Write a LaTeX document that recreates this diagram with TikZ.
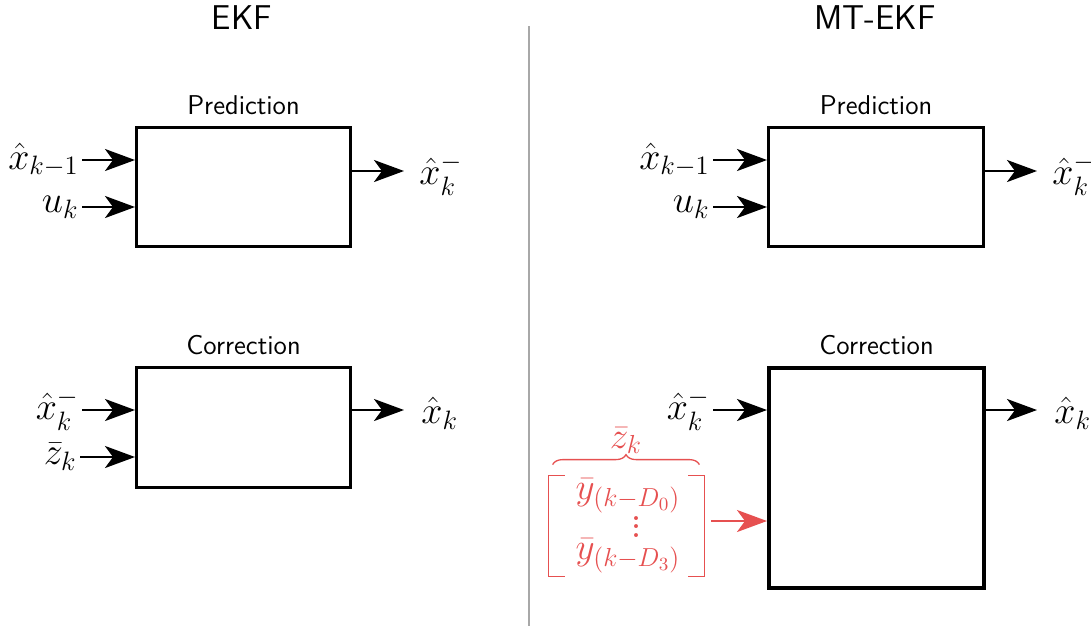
\RequirePackage{fix-cm}
\documentclass[tikz,border=0pt]{standalone}
\usepackage{amsmath}
\usetikzlibrary{arrows.meta,decorations.pathreplacing,calc}
\definecolor{obsred}{RGB}{230,80,80}
\definecolor{divgray}{RGB}{168,168,168}
\begin{document}
\begin{tikzpicture}[x=0.5pt,y=-0.5pt,
  blockbox/.style={draw=black,line width=1.5pt,minimum width=107pt,anchor=north west,inner sep=0pt},
  titletext/.style={font=\fontsize{17.2}{20}\selectfont\sffamily},
  headtext/.style={font=\fontsize{13.6}{16}\selectfont\sffamily,anchor=base},
  mathlbl/.style={font=\fontsize{19}{22}\selectfont,inner sep=1.5pt},
  sigarrow/.style={line width=1.25pt,-{Stealth[length=15pt,width=11pt,inset=4pt]}},
  redarrow/.style={draw=obsred,line width=1.25pt,-{Stealth[length=15pt,width=11pt,inset=4pt]}},
  redtext/.style={text=obsred,font=\fontsize{18.6}{22}\selectfont,inner sep=0pt}]
\useasboundingbox (0,0) rectangle (1091,629);

% divider between the two filters
\coordinate (divtop) at (529,26);
\coordinate (divbot) at (529,626);
\draw[divgray,line width=1pt] (divtop) -- (divbot);

% titles
\node[titletext] (t1) at (242,18) {EKF};
\node[titletext] (t2) at (875,18) {MT-EKF};

% ---------- EKF ----------
\node[blockbox,minimum height=59.5pt] (predA) at (135,126) {};
\node[blockbox,minimum height=60pt] (corrA) at (135,366) {};
\node[headtext] (hpA) at ($(predA.north)+(0,-12)$) {Prediction};
\node[headtext] (hcA) at ($(corrA.north)+(0,-12)$) {Correction};

\coordinate (ia1) at (82,160);
\coordinate (ia2) at (82,207);
\node[mathlbl,anchor=east] (la1) at (ia1) {$\hat{x}_{k-1}$};
\node[mathlbl,anchor=east] (la2) at (ia2) {$u_k$};
\draw[sigarrow] (ia1) -- (ia1 -| predA.west);
\draw[sigarrow] (ia2) -- (ia2 -| predA.west);
\coordinate (oa1) at (404,171);
\draw[sigarrow] (oa1 -| predA.east) -- (oa1);
\node[mathlbl,anchor=west] (loa1) at ($(oa1)+(12,4)$) {$\hat{x}_k^-$};

\coordinate (ia3) at (82,410);
\coordinate (ia4) at (80,457);
\node[mathlbl,anchor=east] (la3) at (ia3) {$\hat{x}_k^-$};
\node[mathlbl,anchor=east] (la4) at (ia4) {$\bar{z}_k$};
\draw[sigarrow] (ia3) -- (ia3 -| corrA.west);
\draw[sigarrow] (ia4) -- (ia4 -| corrA.west);
\coordinate (oa2) at (404,410);
\draw[sigarrow] (oa2 -| corrA.east) -- (oa2);
\node[mathlbl,anchor=west] (loa2) at ($(oa2)+(14,3)$) {$\hat{x}_k$};

% ---------- MT-EKF ----------
\node[blockbox,minimum height=59.5pt,minimum width=107.5pt] (predB) at (767,126) {};
\node[blockbox,line width=2pt,minimum height=110pt,minimum width=107.5pt] (corrB) at (767,366) {};
\node[headtext] (hpB) at ($(predB.north)+(0,-12)$) {Prediction};
\node[headtext] (hcB) at ($(corrB.north)+(0,-12)$) {Correction};

\coordinate (ib1) at (713,160);
\coordinate (ib2) at (713,207);
\node[mathlbl,anchor=east] (lb1) at (ib1) {$\hat{x}_{k-1}$};
\node[mathlbl,anchor=east] (lb2) at (ib2) {$u_k$};
\draw[sigarrow] (ib1) -- (ib1 -| predB.west);
\draw[sigarrow] (ib2) -- (ib2 -| predB.west);
\coordinate (ob1) at (1037,171);
\draw[sigarrow] (ob1 -| predB.east) -- (ob1);
\node[mathlbl,anchor=west] (lob1) at ($(ob1)+(12,4)$) {$\hat{x}_k^-$};

\coordinate (ib3) at (713,410);
\node[mathlbl,anchor=east] (lb3) at (ib3) {$\hat{x}_k^-$};
\draw[sigarrow] (ib3) -- (ib3 -| corrB.west);
\coordinate (ob2) at (1037,410);
\draw[sigarrow] (ob2 -| corrB.east) -- (ob2);
\node[mathlbl,anchor=west] (lob2) at ($(ob2)+(14,3)$) {$\hat{x}_k$};

% delayed measurement stack
\node[minimum width=77.5pt,minimum height=50pt,inner sep=0pt] (stack) at (626.5,526) {};
\node[redtext] (y0) at (628,496) {$\bar{y}_{(k-D_0)}$};
\node[redtext,font=\fontsize{24}{24}\selectfont] (dots) at (636,527)
  {\vbox{\baselineskip=4.4pt\lineskiplimit=0pt\hbox{.}\hbox{.}\hbox{.}}};
\node[redtext] (y3) at (628,556) {$\bar{y}_{(k-D_3)}$};
\draw[obsred,line width=0.65pt]
  ($(stack.north west)+(16,0)$) -- (stack.north west) -- (stack.south west) -- ($(stack.south west)+(16,0)$);
\draw[obsred,line width=0.65pt]
  ($(stack.north east)+(-16,0)$) -- (stack.north east) -- (stack.south east) -- ($(stack.south east)+(-16,0)$);
\draw[obsred,line width=0.65pt,decorate,decoration={brace,amplitude=5pt}]
  ($(stack.north west)+(4,-11)$) -- ($(stack.north east)+(-5,-11)$)
  node[midway,above=5pt,redtext] (zb) {$\bar{z}_k$};
\coordinate (rs) at ($(stack.east)+(7,-5)$);
\draw[redarrow] (rs) -- (rs -| corrB.west);
\end{tikzpicture}
\end{document}
